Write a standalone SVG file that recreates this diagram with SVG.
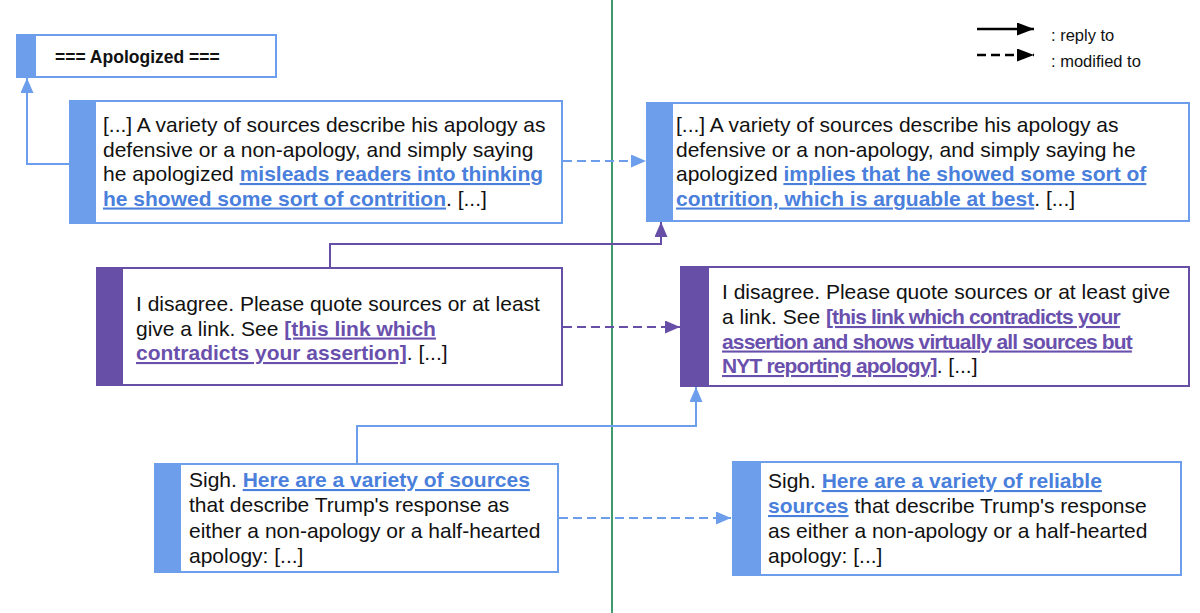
<svg xmlns="http://www.w3.org/2000/svg" width="1200" height="613" viewBox="0 0 1200 613">
<style>
text{font-family:"Liberation Sans",Arial,sans-serif;font-size:21px;fill:#111}
.lb{font-weight:bold;fill:#4a7fdc;text-decoration:underline}
.lp{font-weight:bold;fill:#6a50ad;text-decoration:underline}
.nar{letter-spacing:-0.85px}
.bbox{fill:#fff;stroke:#6d9eeb;stroke-width:2}
.pbox{fill:#fff;stroke:#674ea7;stroke-width:2}
.bbar{fill:#6d9eeb}
.pbar{fill:#674ea7}
.cb{fill:none;stroke:#6d9eeb;stroke-width:2}
.cp{fill:none;stroke:#674ea7;stroke-width:2}
.dash{stroke-dasharray:9 5}
.leg{font-size:16.5px}
</style>
<defs>
<marker id="ab" markerUnits="userSpaceOnUse" markerWidth="16" markerHeight="14" refX="15" refY="6.5" orient="auto"><path d="M0,0 L15,6.5 L0,13 z" fill="#6d9eeb"/></marker>
<marker id="ap" markerUnits="userSpaceOnUse" markerWidth="16" markerHeight="14" refX="15" refY="6.5" orient="auto"><path d="M0,0 L15,6.5 L0,13 z" fill="#674ea7"/></marker>
<marker id="ak" markerUnits="userSpaceOnUse" markerWidth="18" markerHeight="14" refX="17" refY="6.5" orient="auto"><path d="M0,0 L17,6.5 L0,13 z" fill="#000"/></marker>
</defs>
<rect width="1200" height="613" fill="#fff"/>
<line x1="612" y1="0" x2="612" y2="613" stroke="#3f9b6b" stroke-width="2"/>

<g id="legend">
<line x1="977" y1="29" x2="1034" y2="29" stroke="#000" stroke-width="2.5" marker-end="url(#ak)"/>
<line x1="977" y1="55" x2="1034" y2="55" stroke="#000" stroke-width="2.5" stroke-dasharray="9 5" marker-end="url(#ak)"/>
<text class="leg" x="1051" y="41">: reply to</text>
<text class="leg" x="1051" y="67">: modified to</text>
</g>

<g id="connectors">
<path class="cb" d="M70,164 H27 V78" marker-end="url(#ab)"/>
<path class="cb dash" d="M563,161 H646" marker-end="url(#ab)"/>
<path class="cp" d="M330,268 V244 H661 V222" marker-end="url(#ap)"/>
<path class="cp dash" d="M563,327 H680" marker-end="url(#ap)"/>
<path class="cb" d="M357,464 V426 H696 V387" marker-end="url(#ab)"/>
<path class="cb dash" d="M559,518 H731" marker-end="url(#ab)"/>
</g>

<g id="apologized">
<rect class="bbox" x="17" y="35" width="259" height="42"/>
<rect class="bbar" x="16" y="34" width="20" height="44"/>
<text x="55" y="63" style="font-weight:bold;font-size:17.5px">=== Apologized ===</text>
</g>

<g id="orig1">
<rect class="bbox" x="70" y="101" width="492" height="122"/>
<rect class="bbar" x="69" y="100" width="27" height="124"/>
<text x="103" y="132">[...] A variety of sources describe his apology as</text>
<text x="103" y="156.5">defensive or a non-apology, and simply saying</text>
<text x="103" y="181">he apologized <tspan class="lb">misleads readers into thinking</tspan></text>
<text x="103" y="205.5"><tspan class="lb">he showed some sort of contrition</tspan>. [...]</text>
</g>

<g id="mod1">
<rect class="bbox" x="647" y="103" width="542" height="118"/>
<rect class="bbar" x="646" y="102" width="27" height="120"/>
<text x="676" y="132">[...] A variety of sources describe his apology as</text>
<text x="676" y="156.5">defensive or a non-apology, and simply saying he</text>
<text x="676" y="181">apologized <tspan class="lb">implies that he showed some sort of</tspan></text>
<text x="676" y="205.5"><tspan class="lb">contrition, which is arguable at best</tspan>. [...]</text>
</g>

<g id="orig2">
<rect class="pbox" x="97" y="268" width="465" height="117"/>
<rect class="pbar" x="96" y="267" width="27" height="119"/>
<text x="136" y="311">I disagree. Please quote sources or at least</text>
<text x="136" y="335.5">give a link. See <tspan class="lp">[this link which</tspan></text>
<text x="136" y="360"><tspan class="lp">contradicts your assertion]</tspan>. [...]</text>
</g>

<g id="mod2">
<rect class="pbox" x="681" y="267" width="508" height="119"/>
<rect class="pbar" x="680" y="266" width="29" height="121"/>
<text x="722" y="299">I disagree. Please quote sources or at least give</text>
<text x="722" y="324">a link. See <tspan class="lp nar">[this link which contradicts your</tspan></text>
<text x="722" y="348.5"><tspan class="lp nar">assertion and shows virtually all sources but</tspan></text>
<text x="722" y="373"><tspan class="lp nar">NYT reporting apology]</tspan>. [...]</text>
</g>

<g id="orig3">
<rect class="bbox" x="155" y="464" width="403" height="108"/>
<rect class="bbar" x="154" y="463" width="27" height="110"/>
<text x="189" y="487">Sigh. <tspan class="lb">Here are a variety of sources</tspan></text>
<text x="189" y="512">that describe Trump's response as</text>
<text x="189" y="537.5">either a non-apology or a half-hearted</text>
<text x="189" y="562.5">apology: [...]</text>
</g>

<g id="mod3">
<rect class="bbox" x="733" y="462" width="448" height="113"/>
<rect class="bbar" x="732" y="461" width="29" height="115"/>
<text x="768" y="488">Sigh. <tspan class="lb">Here are a variety of reliable</tspan></text>
<text x="768" y="513"><tspan class="lb">sources</tspan> that describe Trump's response</text>
<text x="768" y="538">as either a non-apology or a half-hearted</text>
<text x="768" y="563">apology: [...]</text>
</g>
</svg>
